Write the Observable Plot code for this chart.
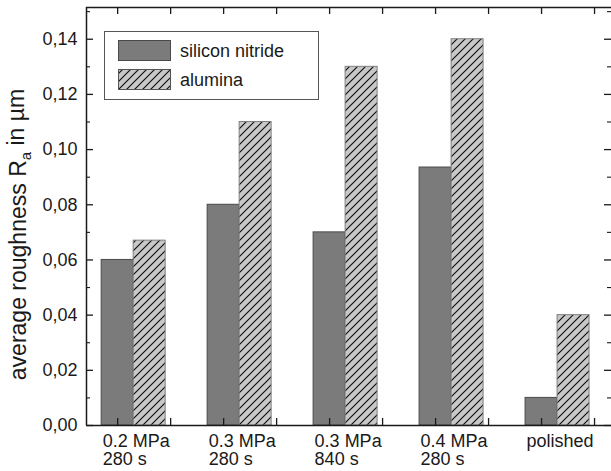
<!DOCTYPE html>
<html><head><meta charset="utf-8">
<script src="https://cdn.jsdelivr.net/npm/d3@7"></script>
<script src="https://cdn.jsdelivr.net/npm/@observablehq/plot@0.6"></script>
<style>body{margin:0;background:#fff} svg{display:block}</style>
</head><body><div id="chart"></div>
<script>
// ---- data ----
const categories = ["0.2 MPa\n280 s", "0.3 MPa\n280 s", "0.3 MPa\n840 s", "0.4 MPa\n280 s", "polished"];
const siliconNitride = [0.060, 0.080, 0.070, 0.0935, 0.010];
const alumina = [0.067, 0.110, 0.130, 0.140, 0.040];
const seriesNames = ["silicon nitride", "alumina"];
const yMajorTicks = [0, 0.02, 0.04, 0.06, 0.08, 0.10, 0.12, 0.14];
const yMinorTicks = [0.01, 0.03, 0.05, 0.07, 0.09, 0.11, 0.13, 0.15];
const xTicks = [0, 0.5, 1, 1.5, 2, 2.5, 3, 3.5, 4, 4.5];
const yTitle = ["average roughness R", "a", " in µm"];

// ---- layout ----
const W = 611, H = 471, mL = 86, mR = 0, mT = 7, mB = 46;
const pw = W - mL - mR, ph = H - mT - mB;
const xDom = [-0.294, 4.66], yDom = [0, 0.1515];
const bw = 0.151;
const font = "'Liberation Sans', Arial, Helvetica, sans-serif";

const snRows = categories.map((c, i) => ({i, x1: i - bw, x2: i + bw, v: siliconNitride[i]}));
const alRows = categories.map((c, i) => ({i, x1: i + bw, x2: i + 3 * bw, v: alumina[i]}));
const axisColor = "#1a1a1a";

const plot = Plot.plot({
  width: W, height: H,
  marginLeft: mL, marginRight: mR, marginTop: mT, marginBottom: mB,
  x: {domain: xDom, axis: null},
  y: {domain: yDom, axis: null},
  style: {fontFamily: font, fontSize: "18px", color: "#1a1a1a", background: "white", overflow: "visible"},
  marks: [
    Plot.rect(snRows, {x1: "x1", x2: "x2", y1: 0, y2: "v", fill: "#7b7b7b", stroke: "#4a4a4a", strokeWidth: 1}),
    Plot.rect(alRows, {x1: "x1", x2: "x2", y1: 0, y2: "v", fill: "url(#hatchAl)", stroke: "#808080", strokeWidth: 1}),
    // inward ticks
    Plot.ruleY(yMajorTicks, {insetRight: pw - 7, stroke: axisColor, strokeWidth: 1.3}),
    Plot.ruleY(yMinorTicks, {insetRight: pw - 4, stroke: axisColor, strokeWidth: 1.1}),
    Plot.ruleY(yMajorTicks, {insetLeft: pw - 7, stroke: axisColor, strokeWidth: 1.3}),
    Plot.ruleY(yMinorTicks, {insetLeft: pw - 4, stroke: axisColor, strokeWidth: 1.1}),
    Plot.ruleX(xTicks, {insetBottom: ph - 7, stroke: axisColor, strokeWidth: 1.3}),
    Plot.ruleX(xTicks, {insetTop: ph - 7, stroke: axisColor, strokeWidth: 1.3}),
    // axis lines
    Plot.ruleX([xDom[0]], {stroke: axisColor, strokeWidth: 1.5}),
    Plot.ruleY([yDom[0]], {stroke: axisColor, strokeWidth: 1.5}),
    Plot.ruleY([yDom[1]], {stroke: axisColor, strokeWidth: 1.5}),
    // tick labels
    Plot.text(yMajorTicks, {x: xDom[0], y: d => d, text: d => d.toFixed(2).replace(".", ","),
      textAnchor: "end", dx: -9, fontSize: 18, fill: "#1a1a1a"}),
    Plot.text(categories, {x: (d, i) => i - bw, y: 0, text: d => d, textAnchor: "start",
      lineAnchor: "top", dy: 8, dx: 1, lineHeight: 1.03, fontSize: 18, fill: "#1a1a1a"})
  ]
});

document.getElementById("chart").appendChild(plot);

const svg = d3.select(plot);
const defs = svg.insert("defs", ":first-child");
const pat = defs.append("pattern").attr("id", "hatchAl").attr("patternUnits", "userSpaceOnUse")
  .attr("width", 8).attr("height", 8);
pat.append("rect").attr("width", 8).attr("height", 8).attr("fill", "#c8c8c8");
pat.append("path").attr("d", "M-2,2L2,-2M0,8L8,0M6,10L10,6").attr("stroke", "#111").attr("stroke-width", 1.2);

// y-axis title
const t = svg.append("text")
  .attr("transform", `translate(26,${(87 + 382) / 2}) rotate(-90)`)
  .attr("text-anchor", "middle")
  .style("font-family", font).style("font-size", "23px").attr("fill", "#1a1a1a");
t.append("tspan").text(yTitle[0]);
t.append("tspan").style("font-size", "15px").attr("dy", "0.3em").text(yTitle[1]);
t.append("tspan").attr("dy", "-0.3em").text(yTitle[2]);

// legend
const lg = svg.append("g").style("font-family", font).style("font-size", "18px")
  .attr("fill", "#1a1a1a").attr("text-anchor", "start");
lg.append("rect").attr("x", 104.5).attr("y", 31.5).attr("width", 214).attr("height", 68)
  .attr("fill", "white").attr("stroke", "#555").attr("stroke-width", 1);
const swFills = ["#7b7b7b", "url(#hatchAl)"], swStrokes = ["#4a4a4a", "#555"];
seriesNames.forEach((name, k) => {
  const y0 = 40.5 + k * 29;
  lg.append("rect").attr("x", 118.5).attr("y", y0).attr("width", 52).attr("height", 20)
    .attr("fill", swFills[k]).attr("stroke", swStrokes[k]).attr("stroke-width", 1);
  lg.append("text").attr("x", 180).attr("y", y0 + 10).attr("dy", "0.35em")
    .attr("text-anchor", "start").text(name);
});
</script>
</body></html>
